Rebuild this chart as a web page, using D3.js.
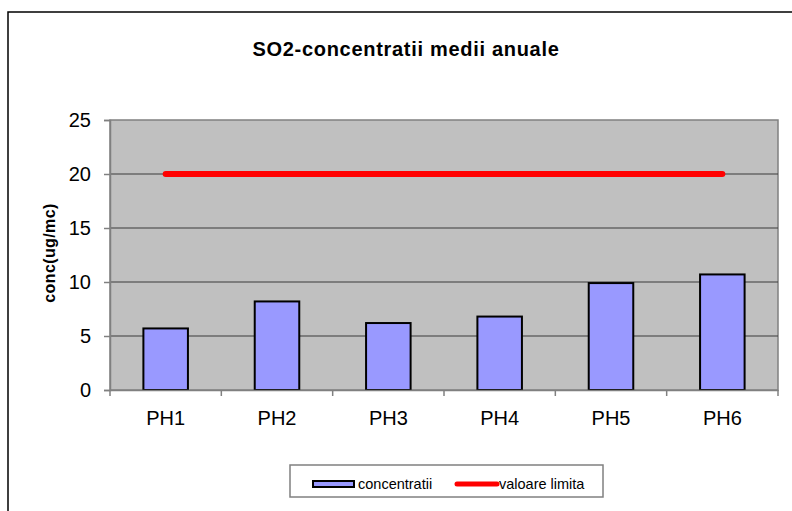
<!DOCTYPE html>
<html>
<head>
<meta charset="utf-8">
<script src="https://cdn.jsdelivr.net/npm/d3@7"></script>
<style>
  html, body { margin: 0; padding: 0; background: #fff; }
  svg { display: block; font-family: Arial, "Liberation Sans", sans-serif; }
</style>
</head>
<body>
<svg id="chart" width="792" height="511"></svg>
<script>
// --- data ---
const categories = ["PH1", "PH2", "PH3", "PH4", "PH5", "PH6"];
const concentratii = [5.7, 8.2, 6.2, 6.8, 9.9, 10.7];
const valoareLimita = [20, 20, 20, 20, 20, 20];
const yTicks = [0, 5, 10, 15, 20, 25];

const svg = d3.select("#chart");

// outer chart frame (runs off the right/bottom edge)
svg.append("rect")
    .attr("x", 8).attr("y", 12)
    .attr("width", 820).attr("height", 540)
    .attr("fill", "#fff").attr("stroke", "#000").attr("stroke-width", 1.5);

const plot = {left: 110, top: 120, right: 778, bottom: 390};

const band = d3.scaleBand().domain(categories).range([plot.left, plot.right]);
const y = d3.scaleLinear().domain([0, 25]).range([plot.bottom, plot.top]);

// plot background
svg.append("rect")
    .attr("x", plot.left).attr("y", plot.top)
    .attr("width", plot.right - plot.left).attr("height", plot.bottom - plot.top)
    .attr("fill", "#c0c0c0").attr("stroke", "#808080").attr("stroke-width", 1.5);

// gridlines
svg.append("g").selectAll("line")
    .data(yTicks.filter(d => d > 0 && d < 25))
    .join("line")
    .attr("x1", plot.left).attr("x2", plot.right)
    .attr("y1", d => y(d)).attr("y2", d => y(d))
    .attr("stroke", "#3a3a3a").attr("stroke-width", 1);

// bars (gap width 150%)
const bw = band.bandwidth() / 2.5;
svg.append("g").selectAll("rect")
    .data(concentratii)
    .join("rect")
    .attr("x", (d, i) => band(categories[i]) + band.bandwidth() / 2 - bw / 2)
    .attr("y", d => y(d))
    .attr("width", bw)
    .attr("height", d => y(0) - y(d))
    .attr("fill", "#9999ff").attr("stroke", "#000").attr("stroke-width", 2);

// limit line
const line = d3.line()
    .x((d, i) => band(categories[i]) + band.bandwidth() / 2)
    .y(d => y(d));
svg.append("path")
    .datum(valoareLimita)
    .attr("d", line)
    .attr("fill", "none").attr("stroke", "#ff0000")
    .attr("stroke-width", 6).attr("stroke-linecap", "round");

// y axis
const yAxis = svg.append("g")
    .attr("transform", `translate(${plot.left},0)`)
    .call(d3.axisLeft(y).tickValues(yTicks).tickSize(6).tickPadding(13));
yAxis.select(".domain").attr("stroke", "#808080").attr("stroke-width", 1.5);
yAxis.selectAll(".tick line").attr("stroke", "#808080").attr("stroke-width", 1.5);
yAxis.selectAll(".tick text").attr("font-size", 20).attr("fill", "#000")
    .attr("font-family", "Arial, 'Liberation Sans', sans-serif");

// x axis
const xAxis = svg.append("g")
    .attr("transform", `translate(0,${plot.bottom})`)
    .call(d3.axisBottom(band).tickSize(0).tickPadding(21));
xAxis.select(".domain").attr("stroke", "#808080").attr("stroke-width", 1.5);
xAxis.selectAll(".tick text").attr("font-size", 20).attr("fill", "#000")
    .attr("font-family", "Arial, 'Liberation Sans', sans-serif");
// category separator ticks
svg.append("g").selectAll("line")
    .data(categories.concat(["end"]))
    .join("line")
    .attr("x1", (d, i) => plot.left + i * band.step())
    .attr("x2", (d, i) => plot.left + i * band.step())
    .attr("y1", plot.bottom).attr("y2", plot.bottom + 6)
    .attr("stroke", "#808080").attr("stroke-width", 1.5);

// title
svg.append("text")
    .attr("x", 406).attr("y", 56)
    .attr("text-anchor", "middle")
    .attr("font-size", 20).attr("font-weight", "bold")
    .attr("letter-spacing", 0.7)
    .text("SO2-concentratii medii anuale");

// y axis title
svg.append("text")
    .attr("transform", "translate(55,253) rotate(-90)")
    .attr("text-anchor", "middle")
    .attr("font-size", 16).attr("font-weight", "bold")
    .attr("letter-spacing", 0.4)
    .text("conc(ug/mc)");

// legend
const lg = svg.append("g");
lg.append("rect")
    .attr("x", 290).attr("y", 465).attr("width", 313).attr("height", 32)
    .attr("fill", "#fff").attr("stroke", "#808080").attr("stroke-width", 1.5);
lg.append("rect")
    .attr("x", 313).attr("y", 481).attr("width", 41).attr("height", 6)
    .attr("fill", "#9999ff").attr("stroke", "#000").attr("stroke-width", 2);
lg.append("text")
    .attr("x", 358).attr("y", 489).attr("font-size", 14.5)
    .text("concentratii");
lg.append("line")
    .attr("x1", 457).attr("x2", 497).attr("y1", 484).attr("y2", 484)
    .attr("stroke", "#ff0000").attr("stroke-width", 5).attr("stroke-linecap", "round");
lg.append("text")
    .attr("x", 499).attr("y", 489).attr("font-size", 14.5)
    .text("valoare limita");
</script>
</body>
</html>
